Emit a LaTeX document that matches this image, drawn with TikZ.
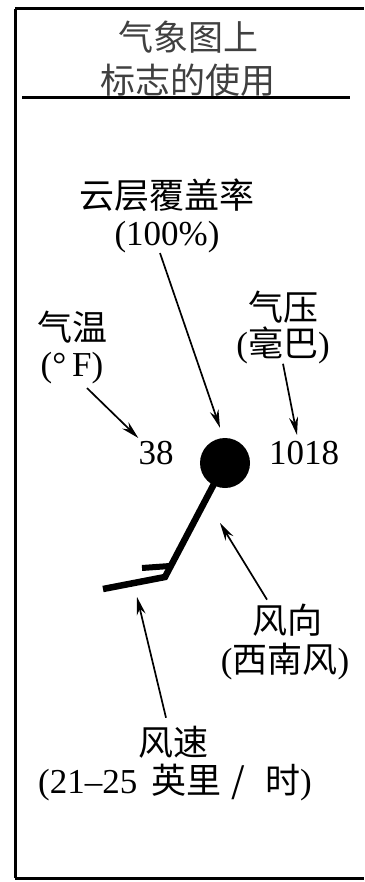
\documentclass[tikz,border=0pt]{standalone}
\usepackage{fontspec}
\setmainfont{Liberation Serif}
\newfontfamily\cjk{Noto Sans CJK SC}
\usetikzlibrary{arrows.meta}
\begin{document}
\begin{tikzpicture}[x=1pt,y=-1pt,
  lbl/.style={inner sep=0pt, font=\fontsize{35}{40}\selectfont},
  ttl/.style={lbl, text=black!75},
  arr/.style={line width=1.7pt, -{Stealth[length=18pt,width=9pt]}},
  frameline/.style={line width=3pt},
  windline/.style={line width=6.5pt, line join=miter},
]
\useasboundingbox (0,0) rectangle (364,882);
% frame
\draw[frameline] (15,9) -- (364,9);
\draw[frameline] (15,9) -- (15,878);
\draw[frameline] (15,878) -- (364,878);
\draw[frameline] (22,98) -- (350,98);
% title
\node[ttl] (title1) at (188,37) {\cjk 气象图上};
\node[ttl] (title2) at (188,80) {\cjk 标志的使用};
% labels
\node[lbl] (cloud1) at (167,195) {\cjk 云层覆盖率};
\node[lbl] (cloud2) at (167,237) {(100\%)};
\node[lbl] (temp1) at (72,327) {\cjk 气温};
\node[lbl] (temp2) at (72,368) {(°\,F)};
\node[lbl] (pres1) at (283,307) {\cjk 气压};
\node[lbl] (pres2) at (283,345) {({\cjk 毫巴})};
\node[lbl] (t38) at (156,453) {38};
\node[lbl] (p1018) at (304,453) {1018};
\node[circle, fill, inner sep=0pt, minimum size=50pt] (dot) at (225,463) {};
\node[lbl] (wd1) at (287,620) {\cjk 风向};
\node[lbl] (wd2) at (285,662) {({\cjk 西南风})};
\node[lbl] (ws1) at (173,742) {\cjk 风速};
\node[lbl] (ws2) at (175,783) {(21–25\hspace{14pt}{\cjk 英里\hspace{10pt}/\hspace{20pt}时})};
% wind symbol
\coordinate (elbow) at (165,577);
\coordinate (barbend) at (103,589);
\coordinate (sbstart) at (170,566);
\coordinate (sbend) at (142,568);
\draw[windline] (dot.center) -- (elbow) -- (barbend);
\draw[line width=6pt] (sbstart) -- (sbend);
% arrow targets
\coordinate (wdtip) at (220,523);
\coordinate (wstip) at (137,597);
% arrows
\draw[arr] ([xshift=-7pt]cloud2.south) -- ([xshift=-5pt,yshift=10pt]dot.north);
\draw[arr] ([xshift=15pt,yshift=-4pt]temp2.south) -- ([yshift=3pt]t38.north west);
\draw[arr] (pres2.south) -- ([xshift=-7pt,yshift=6pt]p1018.north);
\draw[arr] ([xshift=-20pt,yshift=4pt]wd1.north) -- (wdtip);
\draw[arr] ([xshift=-7pt,yshift=8pt]ws1.north) -- (wstip);
\end{tikzpicture}
\end{document}
